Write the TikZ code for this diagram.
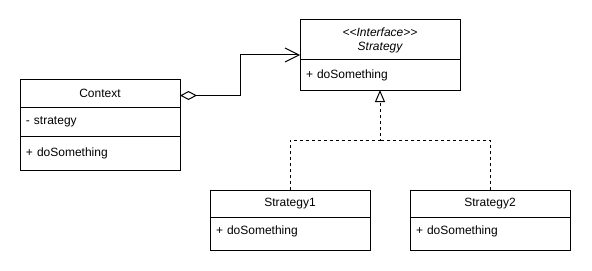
\documentclass[tikz,border=0pt]{standalone}
\usepackage{fontspec}
\setmainfont{Liberation Sans}
\usetikzlibrary{arrows.meta,fit,positioning}

\begin{document}
\begin{tikzpicture}[
  x=0.75pt,y=-0.75pt,
  font=\fontsize{9}{10.8}\selectfont,
  cabeca/.style={draw,line width=0.75pt,outer sep=0pt,inner sep=0pt,
                 minimum width=120pt,align=center},
  membros/.style={draw,line width=0.75pt,outer sep=0pt,inner xsep=4.5pt,inner ysep=0pt,
                  text width=111pt,align=left},
  agregacao/.style={line width=0.75pt,
                    {Diamond[open,length=12.75pt,width=6.75pt]}-{Straight Barb[length=10.5pt,width=10.5pt]}},
  realiza/.style={line width=0.75pt,dash pattern=on 2.25pt off 2.25pt,
                  -{Triangle[open,length=9pt,width=7.5pt]}},
  tracejada/.style={line width=0.75pt,dash pattern=on 2.25pt off 2.25pt}
]
  \path[use as bounding box,fill=white] (0,0) rectangle (592,271);

  % Context
  \node[cabeca,minimum height=20.25pt,anchor=north west] (ctx) at (20,80) {Context};
  \node[membros,minimum height=21.75pt,below=0pt of ctx] (ctxattr) {- strategy};
  \node[membros,minimum height=25.5pt,below=0pt of ctxattr] (ctxop) {+ doSomething};

  % interface
  \node[cabeca,minimum height=30pt,anchor=north west,
        font=\fontsize{9}{10.5}\selectfont\itshape] (strat) at (300,20)
        {<\kern0pt<Interface>\kern0pt>\\Strategy};
  \node[membros,minimum height=22.5pt,below=0pt of strat] (stratop) {+ doSomething};
  \node[fit=(strat)(stratop),inner sep=0pt,outer sep=0pt] (strategy) {};

  % implementations
  \node[cabeca,minimum height=20.25pt,anchor=north west] (s1) at (210,190) {Strategy1};
  \node[membros,text height=13pt,text depth=11.75pt,below=0pt of s1] (s1op) {+ doSomething};
  \node[cabeca,minimum height=20.25pt,anchor=north west] (s2) at (410,190) {Strategy2};
  \node[membros,text height=13pt,text depth=11.75pt,below=0pt of s2] (s2op) {+ doSomething};

  \draw[agregacao] ([yshift=-1.5pt]ctx.east) -- ++(60,0) |- (strategy.west);

  \coordinate (juncao) at (380,140);
  \draw[realiza] (s1.north) |- (juncao) -- (strategy.south);
  \draw[tracejada] (s2.north) |- (juncao);
\end{tikzpicture}
\end{document}
